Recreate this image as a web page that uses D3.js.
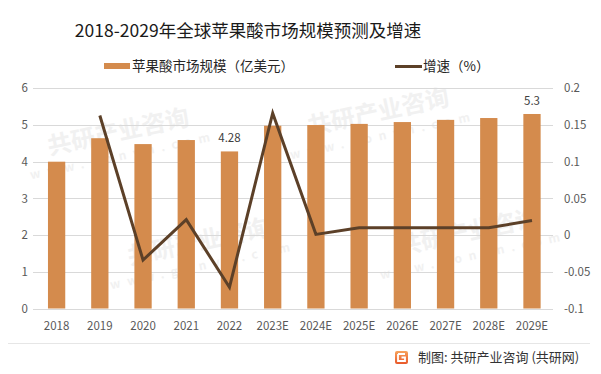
<!DOCTYPE html>
<html><head><meta charset="utf-8">
<script src="https://cdn.jsdelivr.net/npm/d3@7/dist/d3.min.js"></script>
<style>body{margin:0;background:#fff}svg{display:block}</style>
</head><body>
<svg id="c" width="601" height="374"></svg>
<script>
const categories = ["2018","2019","2020","2021","2022","2023E","2024E","2025E","2026E","2027E","2028E","2029E"];
const marketSize = [4.0,4.64,4.48,4.59,4.28,4.98,5.0,5.03,5.08,5.14,5.19,5.3];
const growth = [null,0.163,-0.034,0.021,-0.071,0.166,0.001,0.01,0.01,0.01,0.01,0.02];
const leftTicks = [0,1,2,3,4,5,6];
const rightTicks = [-0.1,-0.05,0,0.05,0.1,0.15,0.2];
const labeled = {"2022":"4.28","2029E":"5.3"};

const svg = d3.select("#c");
const font = "'Noto Sans CJK SC','Noto Sans',sans-serif";

// faint watermark (kept inside the canvas)
const wm = svg.append("g").attr("fill","#f1f1f1").attr("font-family",font).attr("font-weight","bold");
[[120,140],[380,120],[200,250],[470,240]].forEach(([x,y])=>{
  const g = wm.append("g").attr("transform",`translate(${x},${y}) rotate(-12)`);
  g.append("text").attr("font-size",24).attr("text-anchor","middle").text("共研产业咨询");
  g.append("text").attr("y",20).attr("font-size",12).attr("text-anchor","middle").attr("letter-spacing",7).text("www.gonyn.com");
});

const x0 = 35, x1 = 553.6, yTop = 88.3, yBot = 308.5;
const x = d3.scaleBand().domain(categories).range([x0,x1]).paddingInner(0.6).paddingOuter(0.3);
const yL = d3.scaleLinear().domain([0,6]).range([yBot,yTop]);
const yR = d3.scaleLinear().domain([-0.1,0.2]).range([yBot,yTop]);

// title
svg.append("text").attr("x",248).attr("y",37).attr("text-anchor","middle")
  .attr("font-family",font).attr("font-size",17.5).attr("fill","#1a1a1a")
  .text("2018-2029年全球苹果酸市场规模预测及增速");

// grid
svg.append("g").selectAll("line").data(leftTicks).join("line")
  .attr("x1",33).attr("x2",553).attr("y1",d=>Math.round(yL(d))+0.5).attr("y2",d=>Math.round(yL(d))+0.5)
  .attr("stroke","#d9d9d9").attr("stroke-width",1);

// axes
const axL = svg.append("g").attr("transform","translate(28,0)")
  .call(d3.axisLeft(yL).tickValues(leftTicks).tickSize(0).tickPadding(0).tickFormat(d3.format("d")));
const axR = svg.append("g").attr("transform","translate(564,0)")
  .call(d3.axisRight(yR).tickValues(rightTicks).tickSize(0).tickPadding(0).tickFormat(d=>d===0?"0":String(+d.toFixed(2))));
const axX = svg.append("g").attr("transform",`translate(0,${yBot})`)
  .call(d3.axisBottom(x).tickSize(0).tickPadding(13));
[axL,axR,axX].forEach(a=>{a.select(".domain").remove();
  a.selectAll("text").attr("font-family",font).attr("font-size",11.5).attr("fill","#595959");});
axR.selectAll("text").attr("text-anchor","start");

// bars
svg.append("g").selectAll("rect").data(categories).join("rect")
  .attr("x",d=>x(d)).attr("width",x.bandwidth())
  .attr("y",(d,i)=>yL(marketSize[i])).attr("height",(d,i)=>yBot-yL(marketSize[i]))
  .attr("fill","#d48b4d");

// labels
svg.append("g").selectAll("text").data(categories.filter(c=>labeled[c])).join("text")
  .attr("x",d=>x(d)+x.bandwidth()/2).attr("y",d=>yL(marketSize[categories.indexOf(d)])-9)
  .attr("text-anchor","middle").attr("font-family",font).attr("font-size",11.5).attr("fill","#404040")
  .text(d=>labeled[d]);

// line
const pts = categories.map((c,i)=>({c,v:growth[i]})).filter(p=>p.v!==null);
svg.append("path").datum(pts)
  .attr("d",d3.line().x(p=>x(p.c)+x.bandwidth()/2).y(p=>yR(p.v)))
  .attr("fill","none").attr("stroke","#5c4028").attr("stroke-width",3).attr("stroke-linejoin","miter");

// legend
const lg = svg.append("g").attr("font-family",font).attr("font-size",13.5).attr("fill","#262626");
lg.append("rect").attr("x",104).attr("y",63).attr("width",26).attr("height",6).attr("fill","#d48b4d");
lg.append("text").attr("x",132).attr("y",71).text("苹果酸市场规模（亿美元）");
lg.append("rect").attr("x",395).attr("y",65).attr("width",27).attr("height",3).attr("fill","#5c4028");
lg.append("text").attr("x",423).attr("y",71).text("增速（%）");

// footer
svg.append("line").attr("x1",8).attr("x2",590).attr("y1",343.5).attr("y2",343.5).attr("stroke","#e6e6e6");
const grad = svg.append("defs").append("linearGradient").attr("id","lg1").attr("x1",0).attr("y1",0).attr("x2",0).attr("y2",1);
grad.append("stop").attr("offset",0).attr("stop-color","#f7a35c");
grad.append("stop").attr("offset",1).attr("stop-color","#e8582a");
const logo = svg.append("g").attr("transform","translate(395,351)");
logo.append("rect").attr("width",13).attr("height",13).attr("rx",2).attr("fill","url(#lg1)");
logo.append("path").attr("d","M3,3 H10 M3,3 V10 H10 V6.5 H6.5").attr("stroke","#fff").attr("stroke-width",1.8).attr("fill","none");
svg.append("text").attr("x",418).attr("y",362).attr("font-family",font).attr("font-size",13)
  .attr("fill","#333").text("制图: 共研产业咨询 (共研网)");
</script>
</body></html>
